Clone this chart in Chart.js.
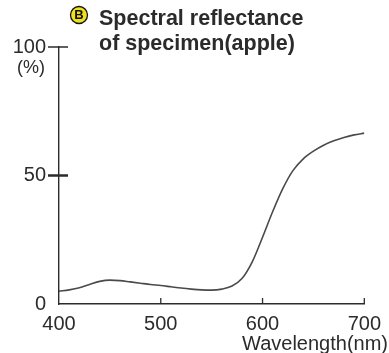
<!DOCTYPE html>
<html>
<head>
<meta charset="utf-8">
<script src="https://cdn.jsdelivr.net/npm/chart.js@4/dist/chart.umd.min.js"></script>
<style>
    html, body { margin: 0; padding: 0; background: #fff; }
    #box { width: 389px; height: 353px; }
</style>
</head>
<body>
<div id="box"><canvas id="reflectance"></canvas></div>
<script>
// wavelength (nm) and reflectance (%) of the apple sample
const wavelengths = [400, 410, 420, 430, 440, 450, 460, 470, 480, 490, 500,
    510, 520, 530, 540, 550, 560, 570, 580, 590, 600,
    610, 620, 630, 640, 650, 660, 670, 680, 690, 700];
const reflectance = [5.0, 5.5, 6.3, 7.6, 8.8, 9.3, 9.1, 8.6, 8.1, 7.6, 7.2,
    6.7, 6.2, 5.8, 5.5, 5.4, 5.8, 7.0, 10.0, 16.5, 26.0,
    36.0, 45.0, 52.0, 56.5, 59.5, 61.8, 63.5, 64.8, 65.8, 66.5];
const xTicks = [400, 500, 600, 700];
const yTicks = [0, 50, 100];
const titleLines = ['Spectral reflectance', 'of specimen(apple)'];
const titleBadge = 'B';
const yUnit = '(%)';
const xUnit = 'Wavelength(nm)';

const FONT = 'Arial, "Liberation Sans", Helvetica, sans-serif';
const INK = '#2b2b2b';

/**
 * Draws the small tick marks, the unit labels and the heading.
 */
const decorations = {
    id: 'decorations',
    afterDraw(chart) {
        const ctx = chart.ctx;
        const x = chart.scales.x;
        const y = chart.scales.y;
        const left = chart.chartArea.left;
        const bottom = chart.chartArea.bottom;
        ctx.save();
        ctx.strokeStyle = INK;

        // y ticks cross the axis
        yTicks.filter(v => v > 0).forEach(v => {
            const py = y.getPixelForValue(v);
            ctx.lineWidth = v === 50 ? 2.5 : 1.5;
            ctx.beginPath();
            ctx.moveTo(left - 11, py);
            ctx.lineTo(left + 9, py);
            ctx.stroke();
        });

        // x ticks point up into the plot
        ctx.lineWidth = 1.3;
        xTicks.filter(v => v > 400).forEach(v => {
            const px = x.getPixelForValue(v);
            ctx.beginPath();
            ctx.moveTo(px, bottom);
            ctx.lineTo(px, bottom - 6);
            ctx.stroke();
        });

        ctx.fillStyle = INK;
        ctx.font = '18px ' + FONT;
        ctx.textAlign = 'center';
        ctx.textBaseline = 'middle';
        ctx.fillText(yUnit, 31, y.getPixelForValue(100) + 21);

        ctx.font = '20px ' + FONT;
        ctx.textAlign = 'right';
        ctx.textBaseline = 'alphabetic';
        ctx.fillText(xUnit, 388, 350);

        // heading with round badge
        ctx.beginPath();
        ctx.arc(79, 15, 8.5, 0, Math.PI * 2);
        ctx.fillStyle = '#f1e01c';
        ctx.fill();
        ctx.lineWidth = 1.3;
        ctx.strokeStyle = '#111';
        ctx.stroke();
        ctx.fillStyle = '#111';
        ctx.font = 'bold 13px ' + FONT;
        ctx.textAlign = 'center';
        ctx.textBaseline = 'middle';
        ctx.fillText(titleBadge, 79, 15.5);

        ctx.font = 'bold 21.5px ' + FONT;
        ctx.textAlign = 'left';
        ctx.textBaseline = 'alphabetic';
        ctx.fillStyle = INK;
        titleLines.forEach((line, i) => ctx.fillText(line, 99, 25 + i * 25));
        ctx.restore();
    }
};

const config = {
    type: 'line',
    data: {
        datasets: [{
            data: wavelengths.map((w, i) => ({ x: w, y: reflectance[i] })),
            borderColor: '#4a4a4a',
            borderWidth: 1.6,
            pointRadius: 0,
            cubicInterpolationMode: 'monotone',
            fill: false
        }]
    },
    options: {
        responsive: true,
        maintainAspectRatio: false,
        animation: false,
        layout: { padding: { left: 0, right: 21, top: 47, bottom: 0 } },
        plugins: {
            legend: { display: false },
            tooltip: { enabled: false }
        },
        scales: {
            x: {
                type: 'linear',
                min: 400,
                max: 700,
                afterFit: s => { s.height = 49; },
                afterBuildTicks: s => { s.ticks = xTicks.map(v => ({ value: v })); },
                grid: { display: false, drawTicks: false },
                border: { display: true, color: INK, width: 1.4 },
                ticks: {
                    color: INK,
                    padding: 8,
                    maxRotation: 0,
                    font: { family: FONT, size: 20 }
                }
            },
            y: {
                min: 0,
                max: 100,
                afterFit: s => { s.width = 59; },
                afterBuildTicks: s => { s.ticks = yTicks.map(v => ({ value: v })); },
                grid: { display: false, drawTicks: false },
                border: { display: true, color: INK, width: 1.4 },
                ticks: {
                    color: INK,
                    padding: 13,
                    font: { family: FONT, size: 20 }
                }
            }
        }
    },
    plugins: [decorations]
};

new Chart(document.getElementById('reflectance'), config);
</script>
</body>
</html>
